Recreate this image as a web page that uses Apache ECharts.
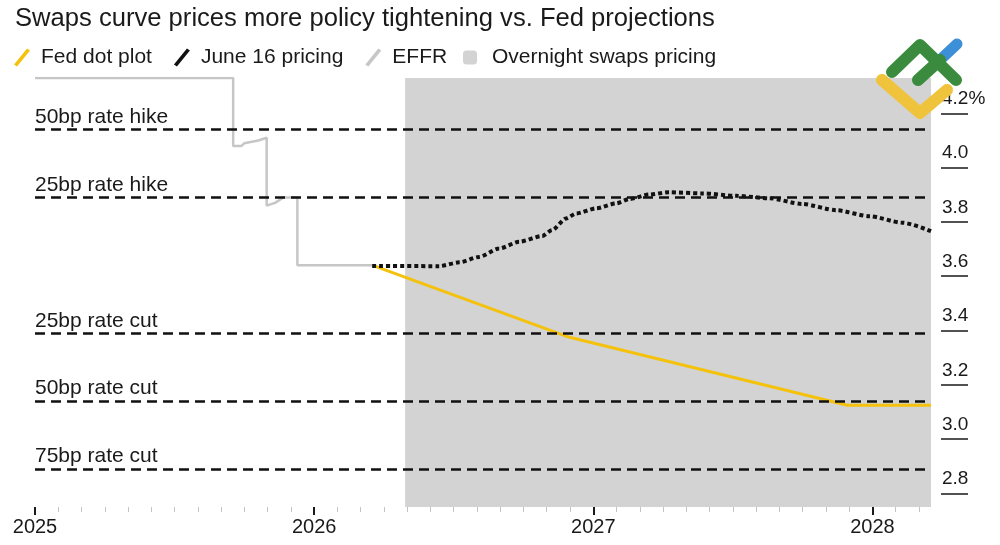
<!DOCTYPE html>
<html>
<head>
<meta charset="utf-8">
<script src="https://cdn.jsdelivr.net/npm/echarts@6/dist/echarts.min.js"></script>
<style>
  html, body { margin: 0; padding: 0; background: #fff; }
  #main { width: 1000px; height: 545px; }
</style>
</head>
<body>
<div id="main"></div>
<script>
// effective fed funds rate (history)
let effr = [
  [2025, 4.33], [2025.71, 4.33], [2025.71, 4.08], [2025.74, 4.08], [2025.75, 4.09],
  [2025.80, 4.10], [2025.83, 4.11], [2025.83, 3.86], [2025.86, 3.87], [2025.89, 3.89],
  [2025.94, 3.89], [2025.94, 3.64], [2026.21, 3.64]
];
// fed dot plot median path
let fedDots = [[2026.21, 3.64], [2026.915, 3.375], [2027.91, 3.125], [2028.21, 3.125]];
// OIS pricing as of June 16
let june16 = [
  [2026.208, 3.638], [2026.448, 3.637], [2026.520, 3.651], [2026.591, 3.671], [2026.663, 3.702],
  [2026.735, 3.727], [2026.817, 3.748], [2026.853, 3.770], [2026.903, 3.813], [2026.939, 3.831],
  [2027.011, 3.850], [2027.082, 3.868], [2027.129, 3.884], [2027.201, 3.901], [2027.272, 3.909],
  [2027.391, 3.905], [2027.513, 3.896], [2027.631, 3.887], [2027.749, 3.866], [2027.871, 3.843],
  [2027.989, 3.821], [2028.108, 3.797], [2028.21, 3.766]
];
let levelNames = ['50bp rate hike', '25bp rate hike', '25bp rate cut', '50bp rate cut', '75bp rate cut'];
let levels = [4.14, 3.89, 3.39, 3.14, 2.89];
let swapsStart = 2026.326;
let yTicks = [2.8, 3.0, 3.2, 3.4, 3.6, 3.8, 4.0, 4.2];
let xMin = 2025, xMax = 2028.21;

// monthly minor ticks
let months = [];
for (let k = 1; xMin + k / 12 < xMax; k++) {
  if (k % 12 !== 0) months.push(xMin + k / 12);
}

let slash = 'path://M13,0 L16,2 L3,18 L0,16 Z';
let font = '"Liberation Sans", Arial, sans-serif';

let myChart = echarts.init(document.getElementById('main'));

let option = {
  animation: false,
  textStyle: { fontFamily: font },
  title: {
    text: 'Swaps curve prices more policy tightening vs. Fed projections',
    left: 10,
    top: 1,
    textStyle: { fontSize: 25.6, fontWeight: 'normal', color: '#1a1a1a', fontFamily: font }
  },
  legend: [
    {
      left: 14,
      top: 47,
      padding: 0,
      itemGap: 22,
      itemWidth: 16,
      itemHeight: 18,
      textStyle: { fontSize: 21, lineHeight: 18, color: '#1a1a1a', fontFamily: font, padding: [0, 0, 0, 6] },
      data: [
        { name: 'Fed dot plot', icon: slash },
        { name: 'June 16 pricing', icon: slash },
        { name: 'EFFR', icon: slash }
      ]
    },
    {
      left: 463,
      top: 47,
      padding: 0,
      itemWidth: 14,
      itemHeight: 14,
      textStyle: { fontSize: 21, lineHeight: 14, color: '#1a1a1a', fontFamily: font, padding: [0, 0, 0, 10] },
      data: [{ name: 'Overnight swaps pricing', icon: 'roundRect' }]
    }
  ],
  grid: { left: 35, right: 69, top: 78, bottom: 38 },
  xAxis: [
    {
      type: 'value',
      min: xMin,
      max: xMax,
      interval: 1,
      axisLine: { show: false },
      splitLine: { show: false },
      axisTick: { show: true, length: 8, lineStyle: { color: '#1a1a1a', width: 2 } },
      axisLabel: {
        fontSize: 20, color: '#1a1a1a', margin: 10,
        showMaxLabel: false,
        formatter: v => String(v)
      }
    },
    {
      type: 'value',
      min: xMin,
      max: xMax,
      position: 'bottom',
      axisLine: { show: false },
      splitLine: { show: false },
      axisLabel: { show: false },
      axisTick: { show: true, customValues: months, length: 5, lineStyle: { color: '#c4c4c4', width: 1 } }
    }
  ],
  yAxis: {
    type: 'value',
    position: 'right',
    offset: 10,
    min: 2.75,
    max: 4.33,
    axisLine: { show: false },
    splitLine: { show: false },
    axisTick: { show: true, customValues: yTicks, length: 27, lineStyle: { color: '#1a1a1a', width: 1.5 } },
    axisLabel: {
      customValues: yTicks,
      fontSize: 19,
      color: '#1a1a1a',
      margin: 1,
      align: 'left',
      verticalAlign: 'bottom',
      padding: [0, 0, 5, 0],
      formatter: v => (Math.abs(v - 4.2) < 1e-6 ? '4.2%' : v.toFixed(1))
    }
  },
  series: [
    {
      name: 'Overnight swaps pricing',
      type: 'line',
      data: [],
      z: 1,
      itemStyle: { color: '#d3d3d3' },
      markArea: {
        silent: true,
        itemStyle: { color: '#d3d3d3' },
        data: [[{ xAxis: swapsStart }, { xAxis: xMax }]]
      }
    },
    {
      name: 'levels',
      type: 'line',
      data: [],
      z: 2,
      markLine: {
        silent: true,
        symbol: 'none',
        lineStyle: { color: '#111', type: [10, 6], width: 2.5 },
        label: {
          position: 'insideStartTop',
          distance: [0, 2],
          formatter: '{b}',
          fontSize: 21,
          color: '#1a1a1a',
          fontFamily: font
        },
        data: levels.map((v, i) => ({ name: levelNames[i], yAxis: v }))
      }
    },
    {
      name: 'EFFR',
      type: 'line',
      data: effr,
      z: 3,
      showSymbol: false,
      itemStyle: { color: '#c6c6c6' },
      lineStyle: { color: '#c6c6c6', width: 2.5 }
    },
    {
      name: 'Fed dot plot',
      type: 'line',
      data: fedDots,
      z: 4,
      showSymbol: false,
      itemStyle: { color: '#f4c20d' },
      lineStyle: { color: '#f4c20d', width: 3 }
    },
    {
      name: 'June 16 pricing',
      type: 'line',
      data: june16,
      z: 5,
      showSymbol: false,
      smooth: 0.25,
      smoothMonotone: 'x',
      itemStyle: { color: '#111' },
      lineStyle: { color: '#111', width: 4, type: [4, 3] }
    }
  ],
  graphic: [
    // watermark logo in the corner
    {
      type: 'polyline', z: 100,
      shape: { points: [[882, 80], [920, 113], [947, 90]] },
      style: { stroke: '#f0c33c', lineWidth: 12, fill: null, lineCap: 'round', lineJoin: 'round' }
    },
    {
      type: 'polyline', z: 101,
      shape: { points: [[940, 60], [957, 44]] },
      style: { stroke: '#3d8fd8', lineWidth: 11, fill: null, lineCap: 'round' }
    },
    {
      type: 'polyline', z: 102,
      shape: { points: [[892, 72], [920, 45], [956, 80]] },
      style: { stroke: '#3a8b3e', lineWidth: 12, fill: null, lineCap: 'round', lineJoin: 'round' }
    },
    {
      type: 'polyline', z: 102,
      shape: { points: [[918, 80], [940, 60]] },
      style: { stroke: '#3a8b3e', lineWidth: 12, fill: null, lineCap: 'round' }
    }
  ]
};

myChart.setOption(option);
</script>
</body>
</html>
